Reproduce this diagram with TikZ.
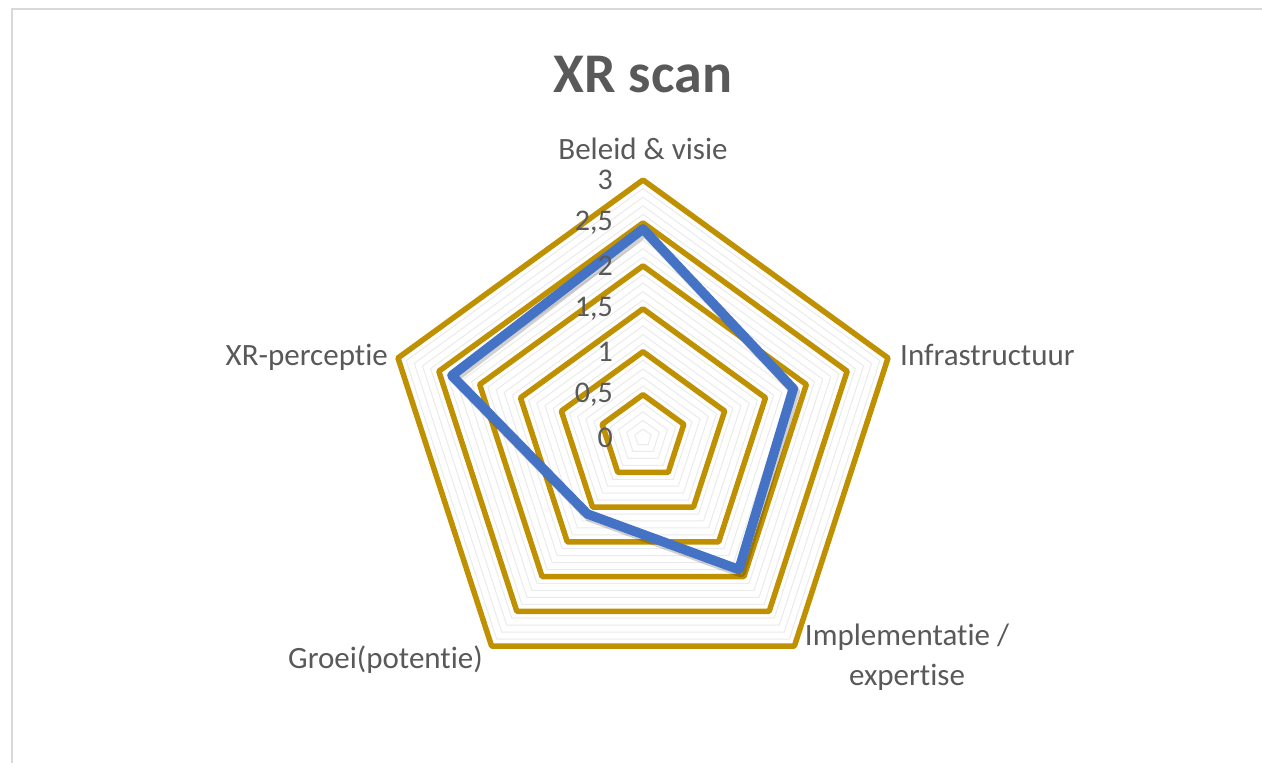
\documentclass[tikz,border=0pt]{standalone}
\usepackage{fontspec}
\setmainfont{Carlito}[Ligatures=NoCommon]
\definecolor{ringgold}{RGB}{191,144,0}
\definecolor{scanblue}{RGB}{68,114,196}
\definecolor{labelgray}{RGB}{89,89,89}
\tikzset{
  axislabel/.style={text=labelgray,font=\fontsize{31}{40}\selectfont,inner sep=0pt},
  ticklabel/.style={text=labelgray,font=\fontsize{30}{32}\selectfont,inner sep=0pt,anchor=east},
  minorring/.style={black!8,line width=1pt},
  majorring/.style={ringgold,line width=5.5pt,line join=round},
  scanline/.style={scanblue,line width=9.5pt,line join=round}
}
\begin{document}
\begin{tikzpicture}[x=1pt,y=1pt]
  \useasboundingbox (0,0) rectangle (1262,763);
  \fill[white] (0,0) rectangle (1262,763);
  \draw[black!15,line width=2pt] (12,-5) -- (12,754) -- (1270,754);
  \node[font=\fontsize{56}{62}\selectfont\bfseries,text=labelgray] (title) at (643,688) {XR scan};
  \begin{scope}[shift={(643,325.4)},x=85.87pt,y=85.87pt]
    \foreach \r in {0.1,0.2,...,3.01}
      \draw[minorring] (90:\r) -- (18:\r) -- (-54:\r) -- (-126:\r) -- (162:\r) -- cycle;
    \foreach \r in {0.5,1,1.5,2,2.5,3}
      \draw[majorring] (90:\r) -- (18:\r) -- (-54:\r) -- (-126:\r) -- (162:\r) -- cycle;
    % scores
    \draw[scanline,black,opacity=0.18,shift={(2pt,-3pt)}] (90:2.43) -- (18:1.84) -- (-54:1.9) -- (-126:1.1) -- (162:2.34) -- cycle;
    \draw[scanline] (90:2.43) -- (18:1.84) -- (-54:1.9) -- (-126:1.1) -- (162:2.34) -- cycle;
    \foreach \r/\t [count=\i] in {0/0,0.5/{0,5},1/1,1.5/{1,5},2/2,2.5/{2,5},3/3}
      \node[ticklabel] (tick\i) at ([xshift=-30pt]90:\r) {\t};
  \end{scope}
  \node[axislabel,anchor=south] (beleid) at (643,603) {Beleid \& visie};
  \node[axislabel,anchor=west] (infra) at (900,408) {Infrastructuur};
  \node[axislabel,align=center] (impl) at (907,106) {Implementatie /\\expertise};
  \node[axislabel,anchor=east] (groei) at (483,103) {Groei(potentie)};
  \node[axislabel,anchor=east] (percept) at (388,406) {XR-perceptie};
\end{tikzpicture}
\end{document}
